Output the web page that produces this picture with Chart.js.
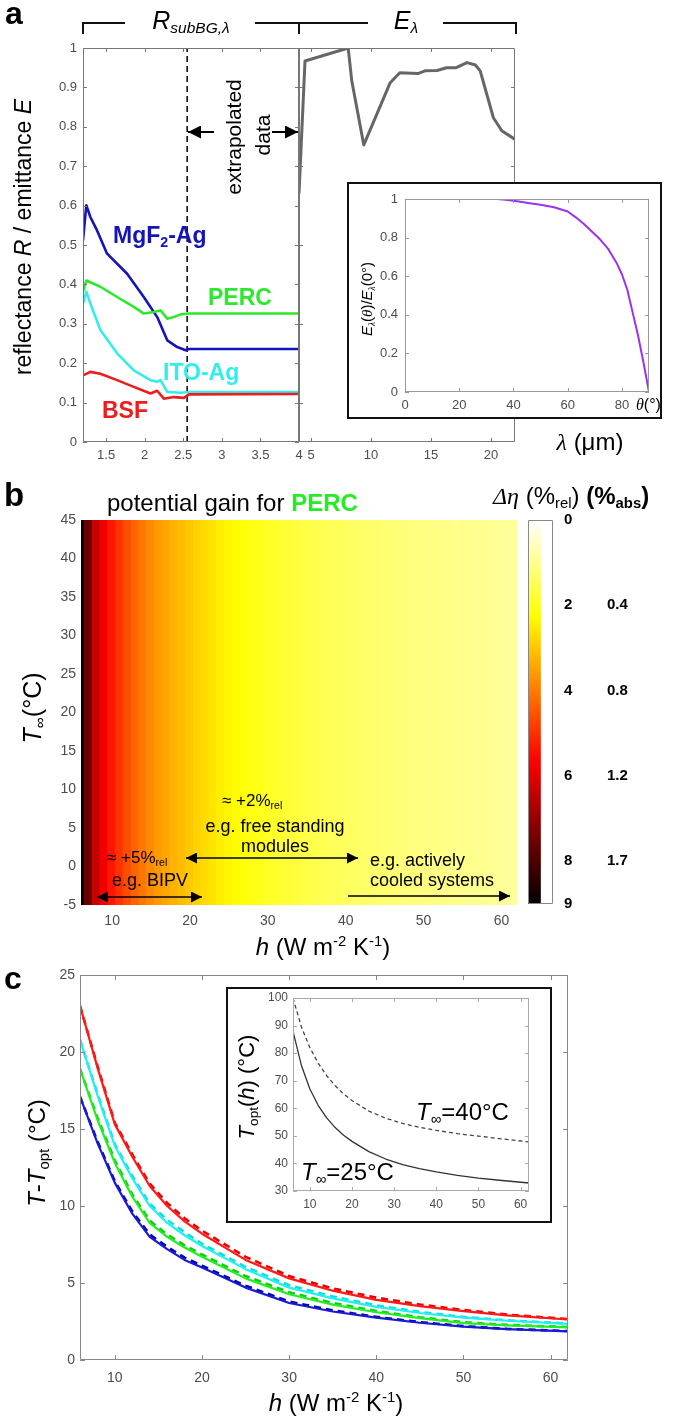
<!DOCTYPE html>
<html>
<head>
<meta charset="utf-8">
<script src="https://cdn.jsdelivr.net/npm/chart.js@4.4.1/dist/chart.umd.min.js"></script>
<style>
body { margin: 0; background: #fff; }
#fig { position: relative; width: 685px; height: 1421px; overflow: hidden; font-family: 'Liberation Sans', Arial, sans-serif; color: #000; }
canvas { position: absolute; }
.t { position: absolute; white-space: nowrap; line-height: 1; }
.c { transform: translate(-50%, -50%); }
.l { transform: translate(0, -50%); }
.v { transform: translate(-50%, -50%) rotate(-90deg); }
sub, sup { font-size: 0.62em; line-height: 0; }
sub { vertical-align: -0.3em; }
sup { vertical-align: 0.6em; }
.g { font-family: 'Liberation Serif', serif; font-style: italic; }
.n { font-family: 'Liberation Sans Narrow', 'Liberation Sans', Arial, sans-serif; }
.box { position: absolute; background: #fff; border: 2px solid #111; box-sizing: border-box; }
</style>
</head>
<body>
<div id="fig">
  <canvas id="aL"></canvas>
  <canvas id="aR"></canvas>
  <div class="box" style="left:347px;top:182px;width:315px;height:237px"></div>
  <canvas id="aIn"></canvas>
  <canvas id="b"></canvas>
  <canvas id="cb"></canvas>
  <canvas id="c"></canvas>
  <div class="box" style="left:226px;top:987px;width:326px;height:236px"></div>
  <canvas id="cIn"></canvas>

  <svg width="685" height="1421" style="position:absolute;left:0;top:0">
    <defs>
      <marker id="hA" viewBox="0 0 10 10" refX="10" refY="5" markerWidth="13" markerHeight="13" markerUnits="userSpaceOnUse" orient="auto-start-reverse"><path d="M0,0L10,5L0,10z" fill="#000"/></marker>
      <marker id="hB" viewBox="0 0 10 10" refX="10" refY="5" markerWidth="11" markerHeight="11" markerUnits="userSpaceOnUse" orient="auto-start-reverse"><path d="M0,0L10,5L0,10z" fill="#000"/></marker>
    </defs>
    <path d="M83,34V23H125M255,23H299V34M299,23H368M443,23H516V34" fill="none" stroke="#111" stroke-width="2"/>
    <line x1="214" y1="132" x2="188" y2="132" stroke="#000" stroke-width="2" marker-end="url(#hA)"/>
    <line x1="272" y1="132" x2="298" y2="132" stroke="#000" stroke-width="2" marker-end="url(#hA)"/>
    <line x1="186" y1="858" x2="358" y2="858" stroke="#000" stroke-width="1.5" marker-start="url(#hB)" marker-end="url(#hB)"/>
    <line x1="97" y1="897" x2="202" y2="897" stroke="#000" stroke-width="1.5" marker-start="url(#hB)" marker-end="url(#hB)"/>
    <line x1="348" y1="896" x2="510" y2="896" stroke="#000" stroke-width="1.5" marker-end="url(#hB)"/>
  </svg>

  <!-- panel a -->
  <div class="t c" style="left:14px;top:13px;font-weight:bold;font-size:32px">a</div>
  <div class="t c" style="left:191px;top:20px;font-size:25px;font-style:italic">R<sub>subBG,λ</sub></div>
  <div class="t c" style="left:406px;top:20px;font-size:25px;font-style:italic">E<sub>λ</sub></div>
  <div class="t v" style="left:233px;top:137px;font-size:21px">extrapolated</div>
  <div class="t v" style="left:262px;top:135px;font-size:21px">data</div>
  <div class="t v" style="left:23px;top:237px;font-size:23px">reflectance <i>R</i> / emittance <i>E</i></div>
  <div class="t l" style="left:113px;top:235px;font-size:23px;font-weight:bold;color:#1414b8">MgF<sub>2</sub>-Ag</div>
  <div class="t l" style="left:208px;top:297px;font-size:23px;font-weight:bold;color:#2ee82e">PERC</div>
  <div class="t l" style="left:163px;top:372px;font-size:23px;font-weight:bold;color:#33eded">ITO-Ag</div>
  <div class="t l" style="left:102px;top:410px;font-size:23px;font-weight:bold;color:#ee1c1c">BSF</div>
  <div class="t c" style="left:590px;top:442px;font-size:24px"><span class="g">λ</span> (μm)</div>
  <div class="t v" style="left:367px;top:299px;font-size:15px"><i>E</i><sub class="g">λ</sub>(<span class="g">θ</span>)/<i>E</i><sub class="g">λ</sub>(0°)</div>
  <div class="t l" style="left:636px;top:405px;font-size:16px"><span class="g">θ</span>(°)</div>

  <!-- panel b -->
  <div class="t c" style="left:14px;top:494px;font-weight:bold;font-size:33px">b</div>
  <div class="t l n" style="left:107px;top:503px;font-size:24px">potential gain for <b style="font-family:'Liberation Sans',Arial,sans-serif;color:#22ee22">PERC</b></div>
  <div class="t l" style="left:493px;top:496px;font-size:24px"><span class="g">Δη</span> (%<sub>rel</sub>) <b>(%<sub>abs</sub>)</b></div>
  <div class="t v" style="left:32px;top:708px;font-size:25px"><i>T</i><sub>∞</sub>(°C)</div>
  <div class="t c" style="left:323px;top:947px;font-size:24px"><i>h</i> (W m<sup>-2</sup> K<sup>-1</sup>)</div>
  <div class="t l n" style="left:222px;top:800px;font-size:17px">≈ +2%<sub>rel</sub></div>
  <div class="t c n" style="left:275px;top:826px;font-size:18px">e.g. free standing</div>
  <div class="t c n" style="left:275px;top:846px;font-size:18px">modules</div>
  <div class="t l n" style="left:107px;top:857px;font-size:17px">≈ +5%<sub>rel</sub></div>
  <div class="t l n" style="left:112px;top:880px;font-size:18px">e.g. BIPV</div>
  <div class="t l n" style="left:370px;top:860px;font-size:18px">e.g. actively</div>
  <div class="t l n" style="left:370px;top:880px;font-size:18px">cooled systems</div>

  <!-- panel c -->
  <div class="t c" style="left:13px;top:978px;font-weight:bold;font-size:32px">c</div>
  <div class="t v" style="left:37px;top:1153px;font-size:24px"><i>T</i>-<i>T</i><sub>opt</sub> (°C)</div>
  <div class="t c" style="left:336px;top:1403px;font-size:24px"><i>h</i> (W m<sup>-2</sup> K<sup>-1</sup>)</div>
  <div class="t v" style="left:247px;top:1087px;font-size:22px"><i>T</i><sub>opt</sub>(<i>h</i>) (°C)</div>
  <div class="t l" style="left:416px;top:1112px;font-size:24px"><i>T</i><sub>∞</sub>=40°C</div>
  <div class="t l" style="left:301px;top:1172px;font-size:24px"><i>T</i><sub>∞</sub>=25°C</div>
</div>

<script>
// panel a: sub-bandgap reflectance vs wavelength (um)
const lamMgF2 = [1.2, 1.243, 1.295, 1.382, 1.512, 1.772, 1.988, 2.162, 2.292, 2.422, 2.53, 2.573, 4];
const rMgF2 = [0.512, 0.601, 0.571, 0.537, 0.478, 0.427, 0.368, 0.317, 0.258, 0.241, 0.233, 0.236, 0.236];
const lamPERC = [1.2, 1.243, 1.425, 1.642, 1.858, 1.988, 2.118, 2.205, 2.292, 2.378, 2.465, 2.573, 4];
const rPERC = [0.381, 0.41, 0.394, 0.368, 0.343, 0.326, 0.33, 0.334, 0.313, 0.317, 0.324, 0.326, 0.326];
const lamITO = [1.2, 1.243, 1.295, 1.425, 1.642, 1.858, 2.075, 2.162, 2.205, 2.292, 2.465, 2.573, 4];
const rITO = [0.352, 0.381, 0.352, 0.284, 0.225, 0.182, 0.157, 0.153, 0.157, 0.127, 0.125, 0.127, 0.127];
const lamBSF = [1.2, 1.295, 1.425, 1.642, 1.858, 2.075, 2.162, 2.248, 2.378, 2.508, 2.573, 4];
const rBSF = [0.169, 0.178, 0.173, 0.157, 0.14, 0.123, 0.13, 0.11, 0.114, 0.112, 0.121, 0.122];
const dashLam = 2.55;
const lamTicksL = [1.5, 2, 2.5, 3, 3.5, 4];
const rTicks = [0, 0.1, 0.2, 0.3, 0.4, 0.5, 0.6, 0.7, 0.8, 0.9, 1];

// panel a: emittance
const lamE = [4, 4.5, 8.1, 8.4, 9.4, 11.6, 12.4, 13.9, 14.5, 15.5, 16.3, 17.1, 18.0, 18.7, 19.1, 20.2, 20.9, 22];
const emitE = [0.63, 0.967, 1.0, 0.916, 0.754, 0.912, 0.937, 0.935, 0.942, 0.943, 0.95, 0.95, 0.963, 0.957, 0.942, 0.823, 0.79, 0.768];
const lamTicksR = [5, 10, 15, 20];

// panel a inset: angular emittance
const theta = [0, 10, 20, 30, 34, 38, 42, 46, 50, 55, 60, 63, 66, 69, 72, 75, 78, 80, 82, 84, 86, 88, 90];
const emitRatio = [1, 1, 1, 1, 1, 0.995, 0.987, 0.978, 0.97, 0.957, 0.935, 0.905, 0.87, 0.83, 0.79, 0.74, 0.67, 0.61, 0.53, 0.41, 0.29, 0.15, 0];
const thetaTicks = [0, 20, 40, 60, 80];
const ratioTicks = [0, 0.2, 0.4, 0.6, 0.8, 1];

// panel b: potential gain (%rel) per h column, over the whole T range
const hCols = [6, 7, 8, 9, 10, 11, 12, 13, 14, 15, 16, 17, 18, 19, 20, 21, 22, 23, 24, 25, 26, 27, 28, 29, 30, 31, 32, 33,
  34, 35, 36, 37, 38, 39, 40, 41, 42, 43, 44, 45, 46, 47, 48, 49, 50, 51, 52, 53, 54, 55, 56, 57, 58, 59, 60, 61, 62];
const gainRel = [9, 7.6, 6.4, 5.8, 5.35, 4.95, 4.6, 4.3, 4.05, 3.8, 3.6, 3.42, 3.26, 3.12, 2.98, 2.85, 2.72, 2.6, 2.48, 2.38,
  2.28, 2.19, 2.1, 2.02, 1.95, 1.88, 1.81, 1.75, 1.69, 1.64, 1.59, 1.54, 1.5, 1.46, 1.42, 1.38, 1.35, 1.32, 1.29, 1.26,
  1.23, 1.2, 1.17, 1.15, 1.12, 1.1, 1.08, 1.06, 1.04, 1.02, 1.0, 0.98, 0.96, 0.94, 0.92, 0.9, 0.88];
const tRange = [-5, 45];
const hTicks = [10, 20, 30, 40, 50, 60];
const tTicks = [-5, 0, 5, 10, 15, 20, 25, 30, 35, 40, 45];
const cbTicks = [0, 2, 4, 6, 8, 9];
const cbAbsTicks = [2, 4, 6, 8];
const cbAbsLabels = ['0.4', '0.8', '1.2', '1.7'];

// panel c: T - Topt vs h (solid and dashed)
const hC = [6, 8, 10, 12, 14, 16, 18, 20, 25, 30, 35, 40, 45, 50, 55, 62];
const dtBSF = [23.0, 19.0, 15.3, 13.2, 11.3, 10.0, 9.0, 8.2, 6.5, 5.3, 4.5, 3.9, 3.5, 3.17, 2.9, 2.63];
const dtBSFd = [23.0, 19.1, 15.4, 13.35, 11.45, 10.2, 9.2, 8.4, 6.7, 5.45, 4.65, 4.05, 3.6, 3.25, 2.95, 2.66];
const dtITO = [20.8, 17.2, 13.9, 11.8, 10.0, 8.9, 8.1, 7.4, 5.9, 4.7, 4.0, 3.45, 3.05, 2.75, 2.55, 2.35];
const dtITOd = [20.8, 17.3, 14.0, 11.95, 10.15, 9.1, 8.3, 7.55, 6.05, 4.85, 4.12, 3.55, 3.12, 2.8, 2.58, 2.37];
const dtPERC = [18.9, 15.6, 12.8, 10.6, 8.9, 8.0, 7.3, 6.7, 5.3, 4.27, 3.6, 3.1, 2.72, 2.4, 2.25, 2.12];
const dtPERCd = [18.9, 15.75, 12.95, 10.75, 9.05, 8.15, 7.45, 6.85, 5.45, 4.4, 3.7, 3.18, 2.78, 2.45, 2.28, 2.14];
const dtMgF2 = [17.1, 14.1, 11.5, 9.5, 8.0, 7.2, 6.5, 6.0, 4.7, 3.7, 3.15, 2.75, 2.42, 2.17, 2.0, 1.86];
const dtMgF2d = [17.1, 14.2, 11.6, 9.65, 8.15, 7.35, 6.65, 6.12, 4.82, 3.8, 3.22, 2.8, 2.46, 2.2, 2.02, 1.88];
const dtTicks = [0, 5, 10, 15, 20, 25];

// panel c inset: optimal temperature
const hIn = [6, 8, 10, 12, 14, 16, 18, 20, 24, 28, 32, 36, 40, 45, 50, 55, 62];
const tOpt25 = [88, 75.5, 67, 61, 56.5, 53, 50.2, 48, 44.3, 41.6, 39.6, 38.1, 36.9, 35.7, 34.7, 33.9, 32.9];
const tOpt40 = [100, 89.5, 82, 76.3, 71.8, 68.2, 65.2, 62.8, 59, 56.4, 54.5, 53.1, 52, 50.8, 49.9, 49, 47.8];
const tOptTicks = [30, 40, 50, 60, 70, 80, 90, 100];

// reversed "hot" colormap, 0 = white, 9 = black
function hotR(v) {
    const t = 1 - v / 9;
    const r = Math.min(1, t / 0.375);
    const g = Math.max(0, Math.min(1, (t - 0.375) / 0.375));
    const b = Math.max(0, Math.min(1, (t - 0.75) / 0.25));
    return `rgb(${Math.round(r * 255)},${Math.round(g * 255)},${Math.round(b * 255)})`;
}

// box with inward ticks, like a MATLAB axes
const frame = {
    id: 'frame',
    afterDatasetsDraw(chart, args, o) {
        if (!o.show) return;
        const { ctx, chartArea: a, scales } = chart;
        ctx.save();
        ctx.strokeStyle = o.color;
        ctx.lineWidth = 1;
        ctx.beginPath();
        ctx.rect(Math.round(a.left) + 0.5, Math.round(a.top) + 0.5, Math.round(a.right - a.left) - 1, Math.round(a.bottom - a.top) - 1);
        const L = o.len || 0;
        if (L) {
            scales.x.ticks.forEach(t => {
                const p = Math.round(scales.x.getPixelForValue(t.value)) + 0.5;
                ctx.moveTo(p, a.bottom); ctx.lineTo(p, a.bottom - L);
                ctx.moveTo(p, a.top); ctx.lineTo(p, a.top + L);
            });
            scales.y.ticks.forEach(t => {
                const p = Math.round(scales.y.getPixelForValue(t.value)) + 0.5;
                ctx.moveTo(a.left, p); ctx.lineTo(a.left + L, p);
                ctx.moveTo(a.right, p); ctx.lineTo(a.right - L, p);
            });
        }
        ctx.stroke();
        ctx.restore();
    }
};
Chart.register(frame);

const fmt = v => String(Math.round(v * 1000) / 1000);

// size and place a canvas so that its chart area lands on area = [l, t, r, b]
function place(id, area, pad) {
    const c = document.getElementById(id);
    c.width = area[2] - area[0] + pad[0] + pad[2];
    c.height = area[3] - area[1] + pad[1] + pad[3];
    c.style.left = (area[0] - pad[0]) + 'px';
    c.style.top = (area[1] - pad[1]) + 'px';
    return c;
}

function axis(min, max, ticks, size, padding, fit) {
    return {
        type: 'linear', min: min, max: max, offset: false,
        afterBuildTicks: s => { s.ticks = ticks.map(v => ({ value: v })); },
        afterFit: fit,
        grid: { display: false, drawTicks: false, offset: false },
        border: { display: false },
        ticks: { color: '#4d4d4d', font: { size: size }, padding: padding, autoSkip: false, maxRotation: 0, callback: fmt }
    };
}

function base(pad, frameOpts) {
    return {
        responsive: false, animation: false, devicePixelRatio: 1, events: [],
        layout: { padding: { left: 0, top: pad[1], right: pad[2], bottom: 0 } },
        plugins: { legend: { display: false }, tooltip: { enabled: false }, frame: frameOpts }
    };
}

function line(xs, ys, color, width, dash) {
    return {
        data: xs.map((x, i) => ({ x: x, y: ys[i] })),
        showLine: true, pointRadius: 0, borderColor: color, borderWidth: width,
        borderDash: dash || [], borderJoinStyle: 'round', fill: false
    };
}

// ---- panel a, left: reflectance ----
let pad = [83, 18, 14, 30];
new Chart(place('aL', [83, 48, 299, 442], pad), {
    type: 'scatter',
    data: {
        datasets: [
            line(lamBSF, rBSF, '#ee1c1c', 2.6),
            line(lamITO, rITO, '#33eded', 2.6),
            line(lamPERC, rPERC, '#2ee82e', 2.6),
            line(lamMgF2, rMgF2, '#1414b8', 2.6),
            line([dashLam, dashLam], [0, 1], '#000', 1.5, [6, 4])
        ]
    },
    options: Object.assign(base(pad, { show: true, color: '#777', len: 4 }), {
        scales: {
            x: axis(1.2, 4, lamTicksL, 13, 6, s => { s.height = 30; }),
            y: axis(0, 1, rTicks, 13, 6, s => { s.width = 83; })
        }
    })
});

// ---- panel a, right: emittance ----
pad = [4, 18, 14, 30];
const yR = axis(0, 1, [0.1, 0.3, 0.5, 0.7, 0.9], 13, 6, s => { s.width = 4; });
yR.ticks.display = false;
new Chart(place('aR', [299, 48, 515, 442], pad), {
    type: 'scatter',
    data: { datasets: [line(lamE, emitE, '#666', 3)] },
    options: Object.assign(base(pad, { show: true, color: '#777', len: 4 }), {
        scales: {
            x: axis(4, 22, lamTicksR, 13, 6, s => { s.height = 30; }),
            y: yR
        }
    })
});

// ---- panel a inset ----
pad = [38, 16, 8, 22];
new Chart(place('aIn', [405, 199, 649, 392], pad), {
    type: 'scatter',
    data: { datasets: [line(theta, emitRatio, '#9a33ee', 2)] },
    options: Object.assign(base(pad, { show: true, color: '#999', len: 4 }), {
        scales: {
            x: axis(0, 90, thetaTicks, 13, 6, s => { s.height = 22; }),
            y: axis(0, 1, ratioTicks, 13, 7, s => { s.width = 38; })
        }
    })
});

// ---- panel b: heat map ----
pad = [50, 16, 10, 30];
new Chart(place('b', [81, 520, 517, 905], pad), {
    type: 'bar',
    data: {
        datasets: [{
            data: hCols.map(h => ({ x: h, y: tRange })),
            backgroundColor: gainRel.map(hotR),
            borderWidth: 0, barPercentage: 1, categoryPercentage: 1, inflateAmount: 1, clip: 0
        }]
    },
    options: Object.assign(base(pad, { show: false }), {
        scales: {
            x: axis(6, 62, hTicks, 14, 8, s => { s.height = 30; }),
            y: axis(-5, 45, tTicks, 14, 5, s => { s.width = 50; })
        }
    })
});

// ---- panel b: colour bar ----
const cbY = axis(0, 9, cbTicks, 15, 11, s => { s.width = 40; });
cbY.position = 'right';
cbY.reverse = true;
cbY.weight = 0;
cbY.ticks.color = '#000';
cbY.ticks.font = { size: 15, weight: 'bold' };
const cbY2 = axis(0, 9, cbAbsTicks, 15, 14, s => { s.width = 80; });
cbY2.position = 'right';
cbY2.reverse = true;
cbY2.weight = 1;
cbY2.ticks.color = '#000';
cbY2.ticks.font = { size: 15, weight: 'bold' };
cbY2.ticks.callback = (v) => cbAbsLabels[cbAbsTicks.indexOf(v)];
new Chart(place('cb', [528, 520, 553, 904], [0, 26, 120, 26]), {
    type: 'bar',
    data: {
        labels: ['gain'],
        datasets: [{
            data: [[cbTicks[0], cbTicks[cbTicks.length - 1]]],
            yAxisID: 'y',
            borderWidth: 0, barPercentage: 1, categoryPercentage: 1,
            backgroundColor: ctx => {
                const a = ctx.chart.chartArea;
                if (!a) return '#fff';
                const grad = ctx.chart.ctx.createLinearGradient(0, a.top, 0, a.bottom);
                for (let k = 0; k <= 36; k++) grad.addColorStop(k / 36, hotR(k / 4));
                return grad;
            }
        }]
    },
    options: Object.assign(base([0, 26, 0, 26], { show: true, color: '#888', len: 0 }), {
        layout: { padding: { left: 0, top: 26, right: 0, bottom: 26 } },
        scales: {
            x: { type: 'category', display: false, offset: false },
            y: cbY,
            y2: cbY2
        }
    })
});

// ---- panel c ----
pad = [50, 18, 12, 30];
new Chart(place('c', [80, 975, 568, 1360], pad), {
    type: 'scatter',
    data: {
        datasets: [
            line(hC, dtBSF, '#ff1a1a', 2.2),
            line(hC, dtBSFd, '#ee0000', 2.6, [7, 5]),
            line(hC, dtITO, '#22f0f0', 2.2),
            line(hC, dtITOd, '#11dddd', 2.6, [7, 5]),
            line(hC, dtPERC, '#22ee22', 2.2),
            line(hC, dtPERCd, '#11cc11', 2.6, [7, 5]),
            line(hC, dtMgF2, '#1a1ad0', 2.2),
            line(hC, dtMgF2d, '#0000c0', 2.6, [7, 5])
        ]
    },
    options: Object.assign(base(pad, { show: true, color: '#888', len: 5 }), {
        scales: {
            x: axis(6, 62, hTicks, 14, 10, s => { s.height = 30; }),
            y: axis(0, 25, dtTicks, 14, 5, s => { s.width = 50; })
        }
    })
});

// ---- panel c inset ----
pad = [32, 15, 10, 20];
new Chart(place('cIn', [293, 998, 529, 1191], pad), {
    type: 'scatter',
    data: {
        datasets: [
            line(hIn, tOpt25, '#333', 1.3),
            line(hIn, tOpt40, '#444', 1.3, [4, 3])
        ]
    },
    options: Object.assign(base(pad, { show: true, color: '#aaa', len: 4 }), {
        scales: {
            x: axis(6, 62, hTicks, 12, 6, s => { s.height = 20; }),
            y: axis(30, 100, tOptTicks, 12, 5, s => { s.width = 32; })
        }
    })
});
</script>
</body>
</html>
